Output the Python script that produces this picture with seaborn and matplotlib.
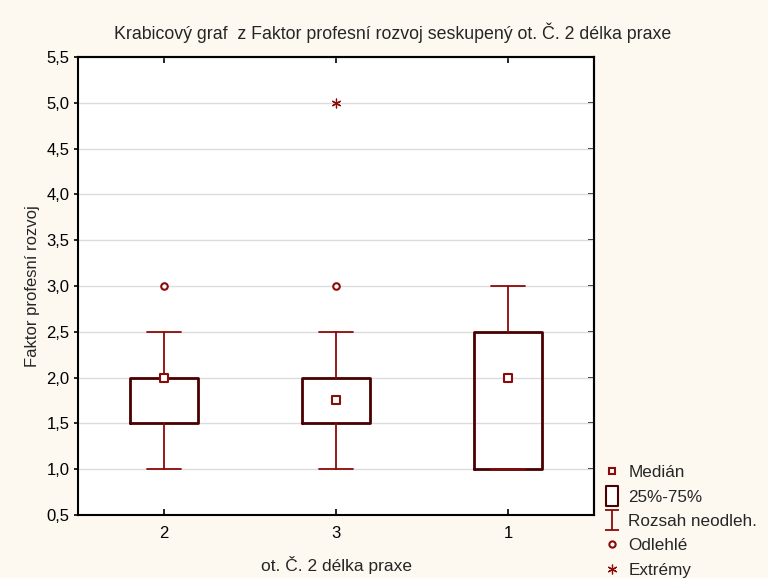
import numpy as np
import pandas as pd
import matplotlib
matplotlib.use("Agg")
import matplotlib.pyplot as plt
import seaborn as sns
from matplotlib.lines import Line2D
from matplotlib.path import Path

categories = ["2", "3", "1"]
medians = [2.0, 1.75, 2.0]
q1 = [1.5, 1.5, 1.0]
q3 = [2.0, 2.0, 2.5]
whis_low = [1.0, 1.0, 1.0]
whis_high = [2.5, 2.5, 3.0]
outlier_cat = ["2", "3"]
outlier_val = [3.0, 3.0]
extreme_cat = ["3"]
extreme_val = [5.0]
yticks = [0.5, 1.0, 1.5, 2.0, 2.5, 3.0, 3.5, 4.0, 4.5, 5.0, 5.5]

title = "Krabicový graf  z Faktor profesní rozvoj seskupený ot. Č. 2 délka praxe"
xlabel = "ot. Č. 2 délka praxe"
ylabel = "Faktor profesní rozvoj"
legend_labels = ["Medián", "25%-75%", "Rozsah neodleh.", "Odlehlé", "Extrémy"]

sns.set_theme(style="white")
plt.rcParams["font.family"] = ["Liberation Sans", "DejaVu Sans"]

BOX_C = "#4a0000"
RED = "#8b0a0a"
BG = "#fdf9f0"

fig = plt.figure(figsize=(7.68, 5.78), dpi=100, facecolor=BG)
ax = fig.add_axes([0.1016, 0.109, 0.6719, 0.7924])
ax.set_facecolor("white")

pos = {c: i for i, c in enumerate(categories)}
stats = []
for i, c in enumerate(categories):
    stats.append(dict(med=medians[i], q1=q1[i], q3=q3[i],
                      whislo=whis_low[i], whishi=whis_high[i], fliers=[], label=c))
ax.bxp(stats, positions=list(range(len(categories))), widths=0.4,
       showfliers=False, patch_artist=False,
       boxprops=dict(color=BOX_C, linewidth=2.0),
       whiskerprops=dict(color=RED, linewidth=1.3),
       capprops=dict(color=RED, linewidth=1.3),
       medianprops=dict(linewidth=0), capwidths=0.2, zorder=3)

med_df = pd.DataFrame({"x": [pos[c] for c in categories], "y": medians})
sns.scatterplot(data=med_df, x="x", y="y", marker="s", s=28, facecolor="white",
                edgecolor=RED, linewidth=1.5, ax=ax, zorder=5)
out_df = pd.DataFrame({"x": [pos[c] for c in outlier_cat], "y": outlier_val})
sns.scatterplot(data=out_df, x="x", y="y", marker="o", s=22, facecolor="white",
                edgecolor=RED, linewidth=1.5, ax=ax, zorder=5)
ext_df = pd.DataFrame({"x": [pos[c] for c in extreme_cat], "y": extreme_val})
sns.scatterplot(data=ext_df, x="x", y="y", marker=(6, 2, 0), s=40, color=RED,
                edgecolor=RED, linewidth=0.9, ax=ax, zorder=5)

ax.set_xlim(-0.5, len(categories) - 0.5)
ax.set_ylim(0.5, 5.5)
ax.set_xticks(range(len(categories)))
ax.set_xticklabels(categories)
ax.set_yticks(yticks)
ax.set_yticklabels([f"{v:.1f}".replace(".", ",") for v in yticks])
ax.grid(axis="y", color="#dcdcdc", linewidth=1.0, zorder=0)
ax.set_axisbelow(True)
for s in ax.spines.values():
    s.set_color("black")
    s.set_linewidth(1.5)
ax.tick_params(axis="x", direction="in", bottom=True, top=False, length=4, width=1.2,
               labelsize=12, colors="black", pad=8)
ax.tick_params(axis="y", direction="out", left=True, right=False, length=3, width=1.2,
               labelsize=12, colors="black", pad=3)

sec_y = ax.secondary_yaxis("right")
sec_y.set_yticks(yticks)
sec_y.tick_params(direction="in", length=4, width=1.2, labelright=False, colors="black")
sec_y.spines["right"].set_linewidth(1.5)
sec_x = ax.secondary_xaxis("top")
sec_x.set_xticks(range(len(categories)))
sec_x.tick_params(direction="in", length=4, width=1.2, labeltop=False, colors="black")
sec_x.spines["top"].set_linewidth(1.5)

ax.set_xlabel(xlabel, fontsize=12.5, labelpad=10.5)
ax.set_ylabel(ylabel, fontsize=12, labelpad=4.5)
ax.set_title(title, fontsize=12.8, pad=13, x=0.61)

rect_path = Path([(-0.55, -1), (0.55, -1), (0.55, 1), (-0.55, 1), (-0.55, -1)],
                 [Path.MOVETO, Path.LINETO, Path.LINETO, Path.LINETO, Path.CLOSEPOLY])
ipath = Path([(-0.67, 1), (0.67, 1), (0, 1), (0, -1), (-0.67, -1), (0.67, -1)],
             [Path.MOVETO, Path.LINETO, Path.MOVETO, Path.LINETO, Path.MOVETO, Path.LINETO])
handles = [
    Line2D([], [], linestyle="none", marker="s", markersize=5, markerfacecolor="white",
           markeredgecolor=RED, markeredgewidth=1.5),
    Line2D([], [], linestyle="none", marker=rect_path, markersize=15, markerfacecolor="white",
           markeredgecolor=BOX_C, markeredgewidth=1.5),
    Line2D([], [], linestyle="none", marker=ipath, markersize=15,
           markeredgecolor=RED, markeredgewidth=1.3),
    Line2D([], [], linestyle="none", marker="o", markersize=4.5, markerfacecolor="white",
           markeredgecolor=RED, markeredgewidth=1.5),
    Line2D([], [], linestyle="none", marker=(6, 2, 0), markersize=7,
           markeredgecolor=RED, markeredgewidth=0.9),
]
fig.legend(handles, legend_labels, loc="upper left", bbox_to_anchor=(0.777, 0.207),
           frameon=False, fontsize=12.3, handlelength=1.0, handletextpad=0.45,
           labelspacing=0.55, borderaxespad=0)

fig.savefig("out.png", dpi=100, facecolor=BG)
